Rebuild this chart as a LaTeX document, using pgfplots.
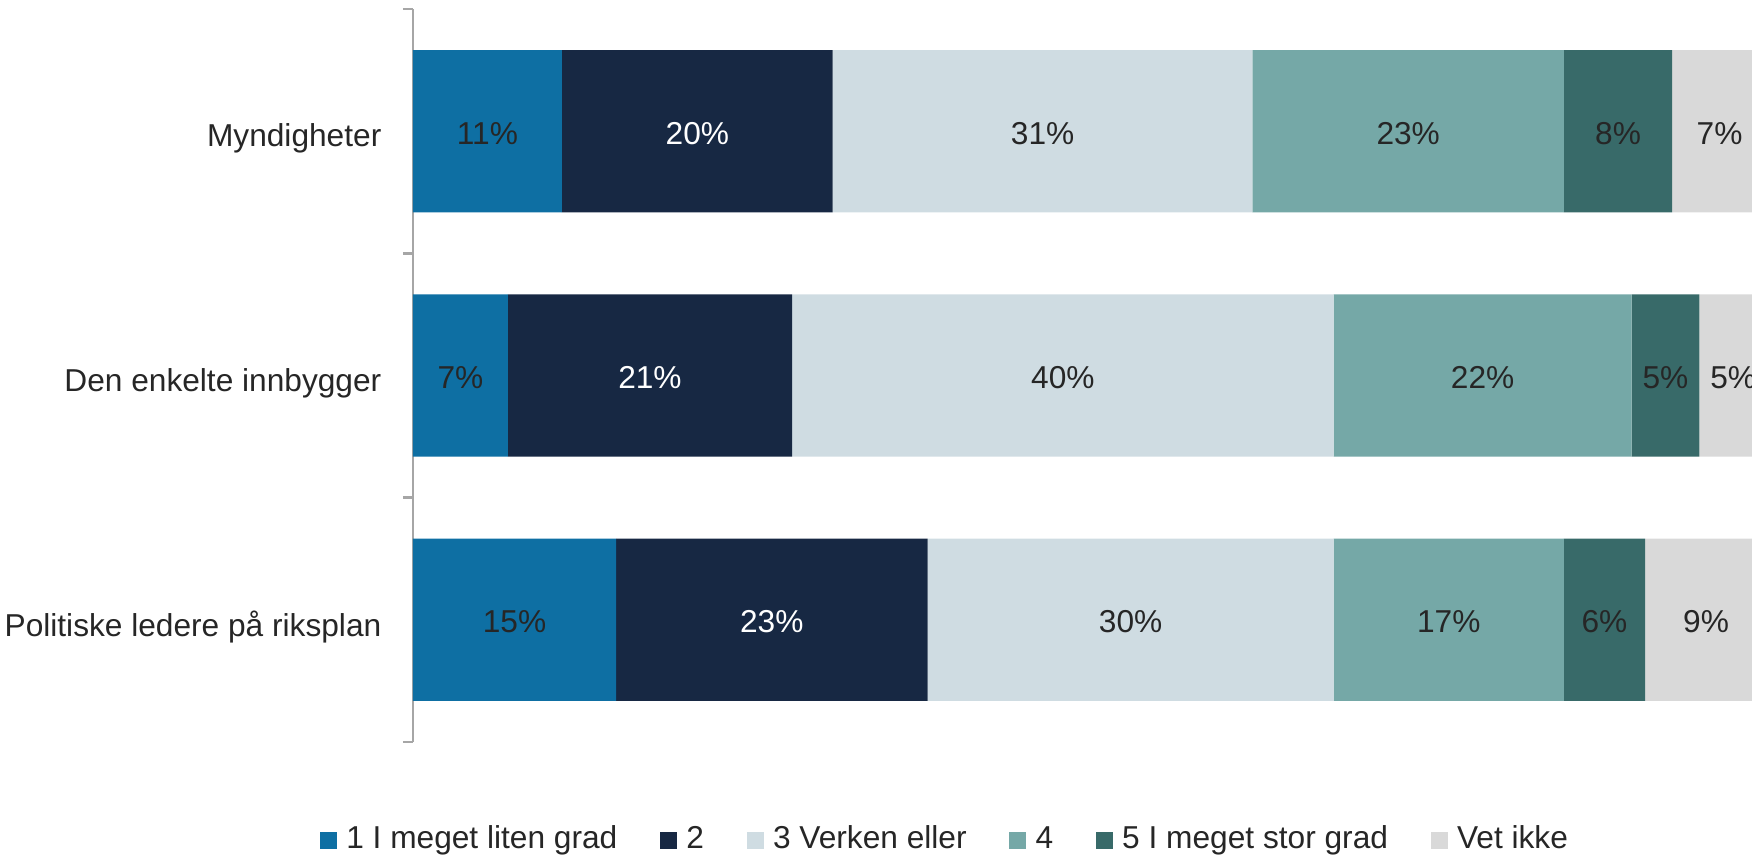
\documentclass[border=0pt]{standalone}
\usepackage{fontspec}
\setmainfont{Liberation Sans}
\usepackage{pgfplots}
\usepackage{pgfplotstable}
\pgfplotsset{compat=1.18}

\definecolor{c1}{HTML}{0E6FA3}
\definecolor{c2}{HTML}{172843}
\definecolor{c3}{HTML}{CFDCE2}
\definecolor{c4}{HTML}{75A8A7}
\definecolor{c5}{HTML}{386A69}
\definecolor{c6}{HTML}{D9D9D9}
\definecolor{txt}{HTML}{262626}
\definecolor{axgray}{HTML}{A6A6A6}

% rows: 0 = Myndigheter, 1 = Den enkelte innbygger, 2 = Politiske ledere
\pgfplotstableread{
y  s1 s2 s3 s4 s5 s6
0  11 20 31 23 8  7
1  7  21 40 22 5  5
2  15 23 30 17 6  9
}\data

\begin{document}
\begin{tikzpicture}
\begin{axis}[
    at={(123.9pt,-2.7pt)}, anchor=north west,
    scale only axis,
    width=406.2pt, height=219.9pt,
    xbar stacked,
    bar width=0.664,
    xmin=0, xmax=100,
    ymin=-0.5, ymax=2.5,
    y dir=reverse,
    enlargelimits=false,
    axis x line=none,
    axis y line*=left,
    axis line style={axgray, line width=0.8pt},
    ytick={0,1,2},
    yticklabels={Myndigheter,Den enkelte innbygger,Politiske ledere på riksplan},
    major tick length=0pt,
    yticklabel style={inner sep=0pt, xshift=-9.3pt, yshift=-2.2pt},
    extra y ticks={-0.5,0.5,1.5,2.5},
    extra y tick labels={},
    extra y tick style={major tick length=3pt, tick align=outside, tick style={axgray, line width=0.8pt}},
    font=\fontsize{9.5}{11}\selectfont,
    /pgf/number format/assume math mode=true,
    every tick label/.append style={text=txt},
    point meta=rawx,
    nodes near coords={\pgfmathprintnumber{\pgfplotspointmeta}\%},
    every node near coord/.append style={anchor=center, text=txt, yshift=-0.6pt},
    legend columns=6,
    legend style={at={(-0.0687,-0.1337)}, anchor=west, draw=none,
        inner sep=0pt, outer sep=0pt, text=txt,
        font=\fontsize{9.5}{11}\selectfont,
        /tikz/every odd column/.append style={column sep=0.8pt},
        /tikz/every even column/.append style={column sep=10.8pt}},
    legend image code/.code={\fill[#1] (0pt,-2.55pt) rectangle (5.1pt,2.55pt);},
]
\addplot[fill=c1, draw=none] table[x=s1, y=y] {\data};
\addlegendentry{1 I meget liten grad}
\addplot[fill=c2, draw=none, nodes near coords style={text=white}] table[x=s2, y=y] {\data};
\addlegendentry{2}
\addplot[fill=c3, draw=none] table[x=s3, y=y] {\data};
\addlegendentry{3 Verken eller}
\addplot[fill=c4, draw=none] table[x=s4, y=y] {\data};
\addlegendentry{4}
\addplot[fill=c5, draw=none] table[x=s5, y=y] {\data};
\addlegendentry{5 I meget stor grad}
\addplot[fill=c6, draw=none] table[x=s6, y=y] {\data};
\addlegendentry{Vet ikke}
\end{axis}
\pgfresetboundingbox
\useasboundingbox (0,0) rectangle (525.6pt,-257.4pt);
\end{tikzpicture}
\end{document}
